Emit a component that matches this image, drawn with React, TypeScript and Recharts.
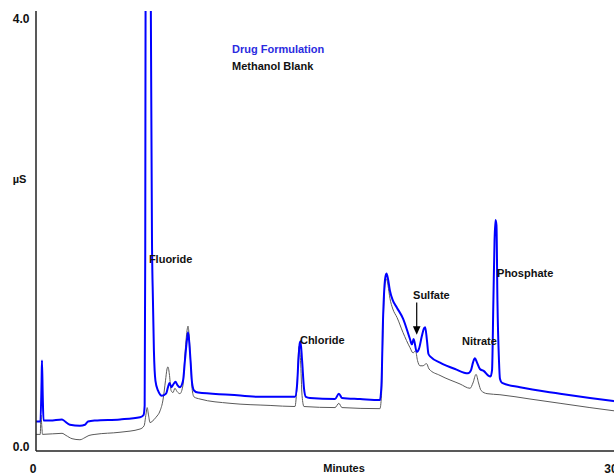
import React from 'react';
import { LineChart, Line, XAxis, YAxis, ReferenceDot, ReferenceLine, Legend } from 'recharts';

// Conductivity traces (µS) against retention time (minutes)
const formulationMinutes = [
  0.0, 0.23, 0.29, 0.31, 0.35, 0.39, 0.73, 1.35, 1.51, 1.76, 2.28, 2.54, 2.7, 3.06, 4.36, 5.4,
  5.58, 5.64, 5.67, 5.69, 5.81, 5.95, 6.02, 6.07, 6.12, 6.2, 6.33, 6.54, 6.75, 6.85, 6.93, 7.03,
  7.14, 7.24, 7.34, 7.47, 7.63, 7.73, 7.84, 7.89, 7.94, 8.02, 8.1, 8.2, 8.41, 10.07, 11.63, 13.44,
  13.55, 13.62, 13.69, 13.73, 13.81, 13.91, 14.01, 14.22, 15.52, 15.72, 15.88, 16.82, 17.85, 17.93,
  18.01, 18.12, 18.19, 18.27, 18.37, 18.52, 18.74, 19.05, 19.41, 19.51, 19.6, 19.76, 19.88, 20.03, 20.14,
  20.2, 20.29, 20.37, 20.5, 20.97, 21.75, 22.42, 22.58, 22.68, 22.78, 22.89, 23.04, 23.25, 23.46,
  23.59, 23.67, 23.74, 23.8, 23.85, 23.9, 23.95, 24.03, 24.08, 24.19, 25.12, 27.2, 28.75, 30.0,
];
const formulationUS = [
  0.24, 0.24, 0.62, 0.81, 0.48, 0.25, 0.25, 0.26, 0.24, 0.21, 0.2, 0.21, 0.24, 0.25, 0.26, 0.28,
  0.3, 0.39, 1.83, 4.5, 7.2, 4.5, 1.93, 1.37, 0.9, 0.62, 0.53, 0.48, 0.5, 0.56, 0.6, 0.56,
  0.59, 0.61, 0.58, 0.56, 0.62, 0.81, 1.01, 1.07, 1.01, 0.81, 0.6, 0.53, 0.51, 0.49, 0.47, 0.47,
  0.58, 0.81, 0.97, 0.99, 0.81, 0.55, 0.47, 0.46, 0.45, 0.5, 0.46, 0.45, 0.44, 0.58,
  1.18, 1.57, 1.62, 1.57, 1.46, 1.37, 1.3, 1.2, 1.01, 0.96, 1.01, 0.89, 0.92, 1.04, 1.11,
  1.12, 1.0, 0.87, 0.84, 0.79, 0.73, 0.69, 0.72, 0.79, 0.83, 0.79, 0.73, 0.71, 0.67,
  0.66, 0.72, 1.37, 1.93, 2.12, 2.07, 1.37, 0.81, 0.64, 0.6, 0.56, 0.5, 0.46, 0.43,
];

const blankMinutes = [
  0.0, 0.22, 0.26, 0.3, 0.34, 1.35, 1.56, 1.87, 2.28, 2.54, 2.75, 3.06, 4.36, 5.4, 5.61, 5.71,
  5.77, 5.84, 5.92, 6.02, 6.23, 6.44, 6.59, 6.72, 6.8, 6.85, 6.93, 7.01, 7.11, 7.21, 7.32, 7.47,
  7.63, 7.73, 7.84, 7.89, 7.94, 8.02, 8.1, 8.2, 8.51, 10.07, 12.15, 13.44, 13.55, 13.65, 13.73,
  13.81, 13.91, 15.52, 15.72, 15.88, 17.85, 17.93, 18.01, 18.12, 18.19, 18.27, 18.37, 18.52, 18.74, 19.05,
  19.41, 19.57, 19.7, 19.8, 19.93, 20.08, 20.27, 20.4, 20.97, 22.01, 22.53, 22.68, 22.84, 22.97,
  23.1, 23.41, 24.08, 25.64, 27.2, 28.75, 30.0,
];
const blankUS = [
  0.12, 0.12, 0.3, 0.2, 0.12, 0.13, 0.11, 0.08, 0.07, 0.09, 0.11, 0.12, 0.14, 0.17, 0.2, 0.31,
  0.37, 0.3, 0.23, 0.24, 0.28, 0.34, 0.44, 0.62, 0.73, 0.75, 0.67, 0.53, 0.51, 0.55, 0.52, 0.5,
  0.58, 0.86, 1.09, 1.13, 1.06, 0.81, 0.55, 0.47, 0.45, 0.41, 0.39, 0.38, 0.58, 0.94, 0.81,
  0.48, 0.38, 0.37, 0.41, 0.37, 0.36, 0.48, 1.09, 1.53, 1.57, 1.51, 1.39, 1.29, 1.21, 1.07,
  0.93, 0.88, 0.9, 0.81, 0.76, 0.76, 0.78, 0.73, 0.67, 0.59, 0.55, 0.6, 0.68, 0.6,
  0.53, 0.5, 0.49, 0.45, 0.41, 0.37, 0.34,
];

// Peak annotations (text starts at the given point)
const peakNames = ['Fluoride', 'Chloride', 'Sulfate', 'Nitrate', 'Phosphate'];
const peakLabelMinutes = [5.86, 13.7, 19.57, 22.11, 23.93];
const peakLabelUS = [1.76, 1.0, 1.42, 0.99, 1.63];

// Arrow pointing at the sulfate peak
const sulfateArrowMinutes = 19.76;
const sulfateArrowFromUS = 1.35;
const sulfateArrowToUS = 1.05;

const signalTicks = [0, 4];
const minuteTicks = [0, 30];
const seriesNames = ['Drug Formulation', 'Methanol Blank'];
const seriesColors = ['#0000ff', '#5a5a5a'];
const legendTextColors = ['#2b2be0', '#111111'];

const FONT = '"Liberation Sans", Arial, Helvetica, sans-serif';

const toPoints = (minutes: number[], values: number[]) =>
  minutes.map((m, i) => ({ minutes: m, us: values[i] }));

const formulationData = toPoints(formulationMinutes, formulationUS);
const blankData = toPoints(blankMinutes, blankUS);

const SignalTick = (props: any) => {
  const { y, payload } = props;
  return (
    <text x={29.5} y={y} textAnchor="end" dominantBaseline="central" fontFamily={FONT} fontSize={12} fontWeight="bold" fill="#111">
      {Number(payload.value).toFixed(1)}
    </text>
  );
};

const MinuteTick = (props: any) => {
  const { x, payload } = props;
  return (
    <text x={x - 3} y={469} textAnchor="middle" dominantBaseline="central" fontFamily={FONT} fontSize={12} fontWeight="bold" fill="#111">
      {payload.value}
    </text>
  );
};

const LegendBlock = () => (
  <div style={{ fontFamily: FONT, fontSize: 11, fontWeight: 'bold', lineHeight: '17px', whiteSpace: 'nowrap' }}>
    {seriesNames.map((name, i) => (
      <div key={name} style={{ color: legendTextColors[i] }}>{name}</div>
    ))}
  </div>
);

export default function App() {
  return (
    <div style={{ position: 'fixed', left: 0, top: 0, width: 614, height: 475, overflow: 'hidden', background: '#fff' }}>
      <LineChart width={660} height={475} margin={{ top: 11, right: 46, bottom: 0, left: 0 }}>
        <XAxis
          dataKey="minutes"
          type="number"
          domain={[0, 30]}
          ticks={minuteTicks}
          height={24}
          tickLine={false}
          axisLine={{ stroke: '#222', strokeWidth: 1.5 }}
          tick={<MinuteTick />}
          allowDataOverflow
          label={{
            content: () => (
              <text x={344} y={468} textAnchor="middle" dominantBaseline="central" fontFamily={FONT} fontSize={11} fontWeight="bold" fill="#111">
                Minutes
              </text>
            ),
          }}
        />
        <XAxis
          xAxisId="frame"
          orientation="top"
          type="number"
          domain={[0, 30]}
          height={0}
          tick={false}
          tickLine={false}
          axisLine={{ stroke: '#222', strokeWidth: 1.5 }}
        />
        <YAxis
          type="number"
          domain={[-0.035, 4.07]}
          ticks={signalTicks}
          width={36}
          tickLine={false}
          axisLine={{ stroke: '#222', strokeWidth: 1.5 }}
          tick={<SignalTick />}
          allowDataOverflow
          label={{
            content: () => (
              <text x={19.5} y={179} textAnchor="middle" dominantBaseline="central" fontFamily={FONT} fontSize={11} fontWeight="bold" fill="#111">
                µS
              </text>
            ),
          }}
        />
        <Legend
          layout="vertical"
          align="center"
          verticalAlign="middle"
          content={<LegendBlock />}
          wrapperStyle={{ left: 232, top: 41, width: 'auto', height: 'auto' }}
        />
        <Line
          data={blankData}
          dataKey="us"
          name={seriesNames[1]}
          type="monotone"
          stroke={seriesColors[1]}
          strokeWidth={1}
          dot={false}
          activeDot={false}
          isAnimationActive={false}
        />
        <Line
          data={formulationData}
          dataKey="us"
          name={seriesNames[0]}
          type="monotone"
          stroke={seriesColors[0]}
          strokeWidth={2}
          dot={false}
          activeDot={false}
          isAnimationActive={false}
        />
        <ReferenceLine
          segment={[
            { x: sulfateArrowMinutes, y: sulfateArrowFromUS },
            { x: sulfateArrowMinutes, y: sulfateArrowToUS },
          ]}
          stroke="#000"
          shape={(p: any) => (
            <g>
              <line x1={p.x1} y1={p.y1} x2={p.x2} y2={p.y2 - 6} stroke="#000" strokeWidth={1.2} />
              <polygon points={`${p.x2 - 3.8},${p.y2 - 8.5} ${p.x2 + 3.8},${p.y2 - 8.5} ${p.x2},${p.y2}`} fill="#000" />
            </g>
          )}
        />
        {peakNames.map((name, i) => (
          <ReferenceDot
            key={name}
            x={peakLabelMinutes[i]}
            y={peakLabelUS[i]}
            r={0}
            shape={(p: any) => (
              <text x={p.cx} y={p.cy} dominantBaseline="central" fontFamily={FONT} fontSize={11} fontWeight="bold" fill="#111">
                {name}
              </text>
            )}
          />
        ))}
      </LineChart>
    </div>
  );
}
